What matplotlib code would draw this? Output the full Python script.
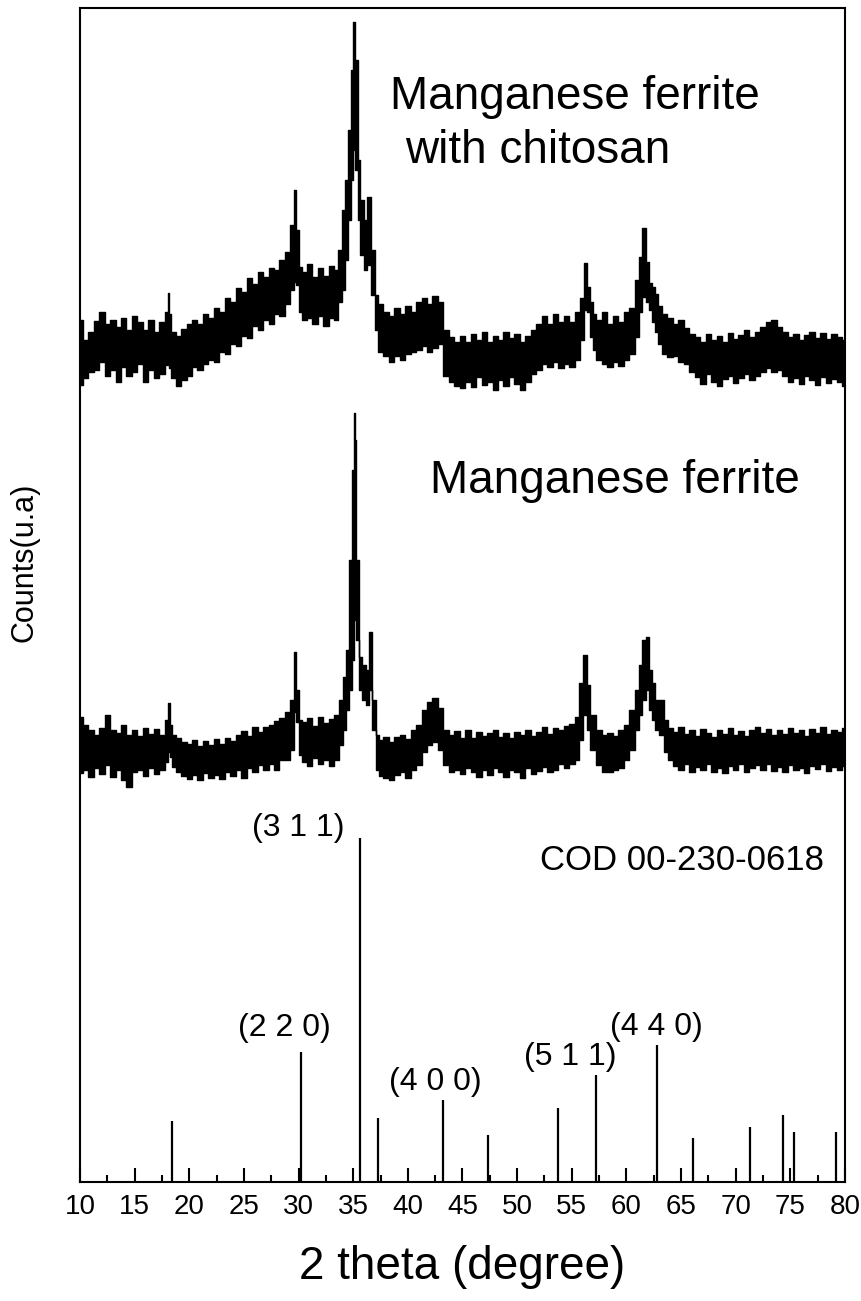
import matplotlib
matplotlib.use("Agg")
import matplotlib.pyplot as plt
from matplotlib.ticker import MultipleLocator

# XRD pattern, manganese ferrite with chitosan (upper band of the noisy trace / lower band)
chi_tt = [10.0, 10.5, 11.0, 11.5, 12.0, 12.5, 13.0, 13.5, 14.0, 14.5,
          15.0, 15.5, 16.0, 16.5, 17.0, 17.5, 18.0, 18.1, 18.2, 18.5,
          19.0, 19.5, 20.0, 20.5, 21.0, 21.5, 22.0, 22.5, 23.0, 23.5,
          24.0, 24.5, 25.0, 25.5, 26.0, 26.5, 27.0, 27.5, 28.0, 28.5,
          29.0, 29.5, 29.7, 29.9, 30.2, 30.5, 31.0, 31.5, 32.0, 32.5,
          33.0, 33.5, 33.8, 34.1, 34.4, 34.7, 34.9, 35.1, 35.3, 35.5,
          35.8, 36.1, 36.5, 36.8, 37.1, 37.5, 38.0, 38.5, 39.0, 39.5,
          40.0, 40.5, 41.0, 41.5, 42.0, 42.5, 43.0, 43.5, 44.0, 44.5,
          45.0, 45.5, 46.0, 46.5, 47.0, 47.5, 48.0, 48.5, 49.0, 49.5,
          50.0, 50.5, 51.0, 51.5, 52.0, 52.5, 53.0, 53.5, 54.0, 54.5,
          55.0, 55.5, 56.0, 56.3, 56.5, 56.8, 57.0, 57.5, 58.0, 58.5,
          59.0, 59.5, 60.0, 60.5, 61.0, 61.3, 61.6, 61.9, 62.2, 62.5,
          62.8, 63.0, 63.5, 64.0, 64.5, 65.0, 65.5, 66.0, 66.5, 67.0,
          67.5, 68.0, 68.5, 69.0, 69.5, 70.0, 70.5, 71.0, 71.5, 72.0,
          72.5, 73.0, 73.5, 74.0, 74.5, 75.0, 75.5, 76.0, 76.5, 77.0,
          77.5, 78.0, 78.5, 79.0, 79.5, 80.0]
chi_hi = [862, 842, 850, 861, 870, 858, 862, 855, 864, 852,
          866, 860, 852, 862, 850, 860, 870, 889, 868, 850,
          846, 853, 858, 862, 858, 868, 864, 874, 870, 884,
          880, 894, 890, 904, 898, 910, 905, 914, 912, 922,
          930, 957, 992, 952, 915, 910, 918, 905, 914, 906,
          916, 912, 932, 972, 1002, 1052, 1112, 1160, 1122, 1022,
          982, 962, 985, 932, 887, 878, 870, 866, 874, 868,
          876, 870, 880, 884, 878, 886, 880, 852, 845, 840,
          846, 840, 848, 842, 850, 840, 846, 842, 850, 844,
          848, 840, 846, 852, 858, 866, 858, 868, 860, 866,
          860, 870, 884, 919, 895, 880, 868, 862, 870, 858,
          866, 860, 870, 874, 902, 925, 954, 920, 899, 895,
          888, 876, 868, 864, 858, 862, 854, 848, 845, 840,
          848, 842, 846, 840, 849, 843, 847, 852, 845, 850,
          855, 860, 862, 855, 850, 845, 848, 842, 847, 850,
          844, 849, 843, 848, 845, 842]
chi_lo = [797, 804, 810, 812, 820, 806, 812, 800, 815, 806,
          810, 818, 800, 812, 804, 808, 817, 830, 814, 804,
          796, 802, 806, 815, 812, 818, 822, 820, 830, 828,
          838, 836, 846, 844, 856, 852, 862, 858, 868, 866,
          878, 892, 900, 897, 870, 862, 864, 858, 866, 856,
          864, 862, 880, 892, 922, 962, 1002, 1032, 1012, 962,
          927, 912, 917, 887, 852, 830, 826, 820, 826, 822,
          828, 830, 832, 836, 830, 834, 838, 806, 800, 796,
          794, 800, 795, 805, 797, 800, 792, 802, 796, 805,
          798, 792, 800, 808, 812, 818, 815, 820, 814, 818,
          815, 822, 842, 872, 870, 845, 832, 822, 818, 815,
          820, 816, 822, 828, 845, 870, 885, 880, 872, 860,
          850, 838, 828, 825, 826, 820, 818, 810, 805, 798,
          808, 800, 796, 803, 806, 799, 804, 808, 802, 806,
          810, 814, 810, 812, 806, 800, 804, 798, 806, 802,
          797, 805, 799, 803, 800, 796]

# manganese ferrite
mn_tt = [10.0, 10.5, 11.0, 11.5, 12.0, 12.5, 13.0, 13.5, 14.0, 14.5,
         15.0, 15.5, 16.0, 16.5, 17.0, 17.5, 18.0, 18.1, 18.3, 18.5,
         19.0, 19.5, 20.0, 20.5, 21.0, 21.5, 22.0, 22.5, 23.0, 23.5,
         24.0, 24.5, 25.0, 25.5, 26.0, 26.5, 27.0, 27.5, 28.0, 28.5,
         29.0, 29.4, 29.7, 29.9, 30.2, 30.5, 31.0, 31.5, 32.0, 32.5,
         33.0, 33.5, 33.9, 34.2, 34.5, 34.8, 35.0, 35.1, 35.2, 35.4,
         35.7, 36.0, 36.3, 36.6, 36.9, 37.2, 37.5, 38.0, 38.5, 39.0,
         39.5, 40.0, 40.5, 41.0, 41.5, 42.0, 42.5, 43.0, 43.5, 44.0,
         44.5, 45.0, 45.5, 46.0, 46.5, 47.0, 47.5, 48.0, 48.5, 49.0,
         49.5, 50.0, 50.5, 51.0, 51.5, 52.0, 52.5, 53.0, 53.5, 54.0,
         54.5, 55.0, 55.5, 55.9, 56.2, 56.5, 56.9, 57.5, 58.0, 58.5,
         59.0, 59.5, 60.0, 60.5, 61.0, 61.3, 61.6, 61.9, 62.2, 62.5,
         62.8, 63.2, 63.7, 64.0, 64.5, 65.0, 65.5, 66.0, 66.5, 67.0,
         67.5, 68.0, 68.5, 69.0, 69.5, 70.0, 70.5, 71.0, 71.5, 72.0,
         72.5, 73.0, 73.5, 74.0, 74.5, 75.0, 75.5, 76.0, 76.5, 77.0,
         77.5, 78.0, 78.5, 79.0, 79.5, 80.0]
mn_hi = [465, 457, 452, 447, 454, 467, 452, 449, 457, 447,
         452, 446, 454, 448, 453, 447, 462, 479, 457, 447,
         444, 440, 438, 442, 436, 441, 437, 443, 438, 444,
         441, 447, 451, 446, 455, 450, 455, 457, 461, 464,
         470, 482, 530, 492, 462, 460, 464, 456, 465, 459,
         463, 467, 482, 505, 532, 622, 712, 769, 742, 622,
         525, 517, 512, 550, 482, 447, 442, 445, 440, 445,
         447, 443, 452, 457, 472, 480, 484, 474, 452, 447,
         451, 444, 452, 444, 450, 446, 449, 452, 445, 449,
         444, 450, 447, 452, 446, 450, 455, 448, 454, 452,
         456, 458, 465, 499, 527, 497, 467, 452, 447, 449,
         446, 452, 457, 472, 492, 517, 542, 545, 512, 499,
         482, 482, 462, 454, 450, 455, 448, 452, 446, 453,
         449, 445, 452, 448, 454, 447, 451, 446, 452, 455,
         449, 453, 447, 452, 448, 454, 449, 452, 446, 453,
         449, 455, 448, 452, 450, 454]
mn_lo = [409, 412, 405, 414, 408, 417, 405, 412, 402, 395,
         410, 412, 406, 414, 408, 412, 420, 430, 425, 415,
         410, 406, 403, 407, 402, 409, 404, 407, 403, 410,
         406, 412, 404, 414, 410, 417, 412, 418, 412, 422,
         422, 432, 470, 460, 427, 420, 416, 424, 418, 422,
         416, 422, 437, 452, 472, 492, 522, 562, 582, 542,
         492, 482, 477, 492, 452, 412, 406, 404, 402, 407,
         410, 404, 412, 417, 430, 437, 440, 432, 417, 410,
         412, 408, 414, 410, 405, 412, 407, 414, 410, 405,
         412, 410, 404, 414, 408, 411, 415, 410, 412, 418,
         414, 418, 422, 442, 467, 452, 432, 417, 410, 410,
         412, 414, 422, 432, 452, 467, 482, 492, 472, 462,
         452, 447, 430, 422, 416, 412, 418, 410, 415, 412,
         418, 410, 414, 409, 416, 412, 418, 410, 414, 417,
         412, 418, 411, 415, 410, 417, 412, 414, 409, 416,
         413, 418, 411, 415, 412, 416]

# COD 00-230-0618 reference lines (relative intensity, %)
stick_tt = [18.4, 30.2, 35.6, 37.3, 43.2, 47.3, 53.7, 57.2, 62.8, 66.1,
            71.3, 74.3, 75.3, 79.2]
stick_rel = [17.7, 37.8, 100, 18.6, 23.8, 13.7, 21.5, 31.1, 39.8, 12.8,
             16.0, 19.5, 14.5, 14.5]
hkl_labels = ["(2 2 0)", "(3 1 1)", "(4 0 0)", "(5 1 1)", "(4 4 0)"]
# label anchor points (2theta, counts)
hkl_tt = [28.66, 29.95, 42.48, 54.83, 62.7]
hkl_y = [154, 354, 100, 125, 155]

plt.rcParams['font.family'] = ['Liberation Sans', 'DejaVu Sans']

fig = plt.figure(figsize=(8.61, 13.01), dpi=100)
ax = fig.add_axes([0.0929, 0.0915, 0.8885, 0.9024])

for tt, hi, lo in ((chi_tt, chi_hi, chi_lo), (mn_tt, mn_hi, mn_lo)):
    ax.fill_between(tt, lo, hi, step='mid', facecolor='black',
                    edgecolor='black', lw=1.0)

scale = 3.44  # stick height per percent
ax.vlines(stick_tt, 0, [r * scale for r in stick_rel], color='black', lw=1.6)

for lab, x, y in zip(hkl_labels, hkl_tt, hkl_y):
    ax.text(x, y, lab, ha='center', va='center', fontsize=23)
ax.text(65.1, 312, "COD 00-230-0618", ha='center', va='baseline', fontsize=25)

ax.text(38.36, 1073, "Manganese ferrite", ha='left', va='baseline', fontsize=33)
ax.text(39.7, 1019, "with chitosan", ha='left', va='baseline', fontsize=33)
ax.text(42.0, 689, "Manganese ferrite", ha='left', va='baseline', fontsize=33)

ax.set_xlim(10, 80)
ax.set_ylim(0, 1174)
ax.set_yticks([])
ax.xaxis.set_major_locator(MultipleLocator(5))
ax.xaxis.set_minor_locator(MultipleLocator(2.5))
ax.tick_params(axis='x', which='major', direction='in', length=10, width=1.5,
               labelsize=20, pad=9)
ax.tick_params(axis='x', which='minor', direction='in', length=5, width=1.5)
for sp in ax.spines.values():
    sp.set_linewidth(1.5)

ax.set_xlabel("2 theta (degree)", fontsize=33, labelpad=18)
fig.text(25 / 861, 1 - 562 / 1301, "Counts(u.a)", rotation=90,
         ha='center', va='center', fontsize=22)

fig.savefig("out.png", dpi=100)
